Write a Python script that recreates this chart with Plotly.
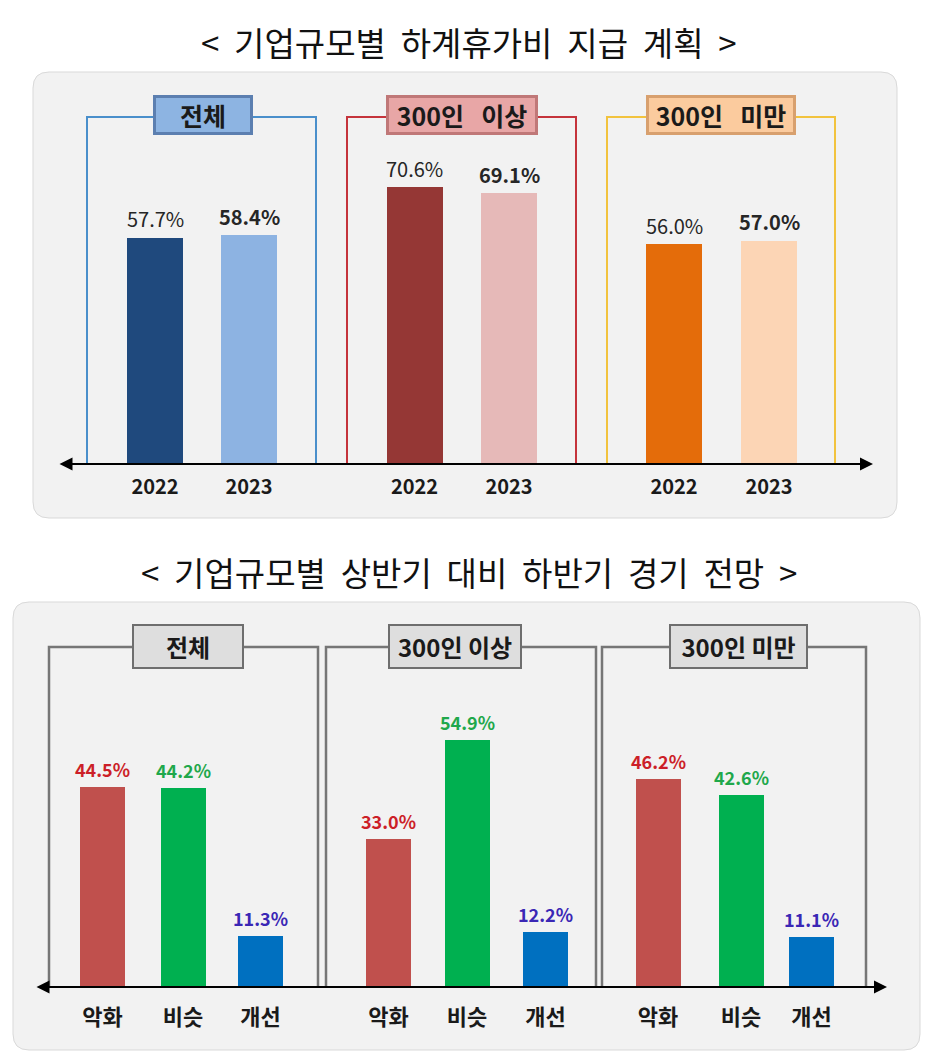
import plotly.graph_objects as go

# ---------------- data ----------------
top_title = "<  기업규모별  하계휴가비  지급  계획  >"
bottom_title = "<  기업규모별  상반기  대비  하반기  경기  전망  >"

top_groups = ["전체", "300인   이상", "300인   미만"]
top_years = ["2022", "2023"]
top_2022 = [57.7, 70.6, 56.0]
top_2023 = [58.4, 69.1, 57.0]

bottom_groups = ["전체", "300인 이상", "300인 미만"]
bottom_cats = ["악화", "비슷", "개선"]
bottom_worse = [44.5, 33.0, 46.2]
bottom_same = [44.2, 54.9, 42.6]
bottom_better = [11.3, 12.2, 11.1]

# ---------------- layout constants (pixels) ----------------
W, H = 938, 1060
FONT = "Noto Sans CJK KR"

TOP_BAR_X = [[155, 249], [414.5, 509], [674, 769]]
TOP_BAR_W = 56
TOP_BASE, TOP_TOP = 464, 72
TOP_SCALE = 3.92  # px per %
TOP_COLORS = [["#1F497D", "#8DB3E2"], ["#953735", "#E6B9B8"], ["#E46C0A", "#FCD5B5"]]
TOP_BRACKETS = [(87, 316, "#4A8FCB"), (347, 576, "#C5343C"), (607, 835, "#F2C33E")]
TOP_BRACKET_Y = 117
TOP_BOXES = [(153, 253, "#8DB4E2", "#5C7FB0"), (386, 538, "#E8A6A6", "#C07878"),
             (646, 796, "#FBCB9E", "#D8A06E")]
TOP_BOX_Y = (95, 135)

BOT_BAR_X = [[102.5, 183, 260.5], [388.5, 467, 545.5], [658, 741, 811.5]]
BOT_BAR_W = 45
BOT_BASE, BOT_TOP = 987, 602
BOT_SCALE = 4.5
BOT_COLORS = ["#C0504D", "#00B050", "#0070C0"]
BOT_TEXT_COLORS = ["#CC1F28", "#1FA84B", "#3A27B5"]
BOT_BRACKETS = [(49, 318), (326, 596), (602, 866)]
BOT_BRACKET_Y = 647
BOT_BOXES = [(132, 244), (388, 522), (669, 808)]
BOT_BOX_Y = (624, 669)


def px(x):
    return x / W


def py(y):
    return 1 - y / H


def rrect(x0, y0, x1, y1, r):
    X0, X1 = px(x0), px(x1)
    Y0, Y1 = py(y0), py(y1)
    rx, ry = r / W, r / H
    return (f"M {X0+rx},{Y0} L {X1-rx},{Y0} Q {X1},{Y0} {X1},{Y0-ry} "
            f"L {X1},{Y1+ry} Q {X1},{Y1} {X1-rx},{Y1} L {X0+rx},{Y1} "
            f"Q {X0},{Y1} {X0},{Y1+ry} L {X0},{Y0-ry} Q {X0},{Y0} {X0+rx},{Y0} Z")


def spaced(s):
    # widen word gaps: keep first space, turn the extra ones into no-break spaces
    out = []
    prev_space = False
    for ch in s:
        if ch == " ":
            out.append("\u00a0" if prev_space else " ")
            prev_space = True
        else:
            out.append(ch)
            prev_space = False
    return "".join(out)


fig = go.Figure()
annotations = []
shapes = []

# ---------------- top bars ----------------
tx, ty, tc = [], [], []
for g in range(len(top_groups)):
    for i, vals in enumerate([top_2022, top_2023]):
        v = vals[g]
        tx.append(TOP_BAR_X[g][i])
        ty.append(v)
        tc.append(TOP_COLORS[g][i])
        annotations.append(dict(
            x=TOP_BAR_X[g][i], y=v, xref="x", yref="y", showarrow=False,
            text=f"{v:.1f}%" if i == 0 else f"<b>{v:.1f}%</b>",
            font=dict(family=FONT, size=20, color="#262626"),
            yshift=19, yanchor="middle", xanchor="center"))
fig.add_trace(go.Bar(
    x=tx, y=ty, width=TOP_BAR_W, marker=dict(color=tc, line=dict(width=0)),
    xaxis="x", yaxis="y", showlegend=False, hoverinfo="skip"))

# ---------------- bottom bars ----------------
for c, vals in enumerate([bottom_worse, bottom_same, bottom_better]):
    xs = [BOT_BAR_X[g][c] for g in range(len(bottom_groups))]
    fig.add_trace(go.Bar(
        x=xs, y=vals, width=BOT_BAR_W,
        marker=dict(color=BOT_COLORS[c], line=dict(width=0)),
        xaxis="x2", yaxis="y2", showlegend=False, hoverinfo="skip"))
    for xv, v in zip(xs, vals):
        annotations.append(dict(
            x=xv, y=v, xref="x2", yref="y2", showarrow=False,
            text=f"<b>{v:.1f}%</b>",
            font=dict(family=FONT, size=18, color=BOT_TEXT_COLORS[c]),
            yshift=18, yanchor="middle", xanchor="center"))

# panels
shapes.append(dict(type="path", path=rrect(33, 72, 897, 518, 16), xref="paper", yref="paper",
                   fillcolor="#F2F2F2", line=dict(color="#D9D9D9", width=1), layer="below"))
shapes.append(dict(type="path", path=rrect(13, 602, 920, 1050, 16), xref="paper", yref="paper",
                   fillcolor="#F2F2F2", line=dict(color="#D9D9D9", width=1), layer="below"))

# top brackets
for (l, r, col) in TOP_BRACKETS:
    shapes.append(dict(type="path",
                       path=f"M {px(l)},{py(TOP_BASE)} L {px(l)},{py(TOP_BRACKET_Y)} "
                            f"L {px(r)},{py(TOP_BRACKET_Y)} L {px(r)},{py(TOP_BASE)}",
                       xref="paper", yref="paper", line=dict(color=col, width=2), layer="below"))
# bottom brackets
for (l, r) in BOT_BRACKETS:
    shapes.append(dict(type="path",
                       path=f"M {px(l)},{py(BOT_BASE)} L {px(l)},{py(BOT_BRACKET_Y)} "
                            f"L {px(r)},{py(BOT_BRACKET_Y)} L {px(r)},{py(BOT_BASE)}",
                       xref="paper", yref="paper", line=dict(color="#767676", width=2.5),
                       layer="below"))

# top label boxes
for g, (l, r, fill, border) in enumerate(TOP_BOXES):
    annotations.append(dict(
        x=px((l + r) / 2), y=py(sum(TOP_BOX_Y) / 2), xref="paper", yref="paper",
        text=f"<b>{spaced(top_groups[g])}</b>", showarrow=False,
        font=dict(family=FONT, size=25, color="#1A1A1A"),
        bgcolor=fill, bordercolor=border, borderwidth=3, borderpad=0,
        width=r - l - 6, height=TOP_BOX_Y[1] - TOP_BOX_Y[0] - 6,
        xanchor="center", yanchor="middle"))
# bottom label boxes
for g, (l, r) in enumerate(BOT_BOXES):
    annotations.append(dict(
        x=px((l + r) / 2), y=py(sum(BOT_BOX_Y) / 2), xref="paper", yref="paper",
        text=f"<b>{bottom_groups[g]}</b>", showarrow=False,
        font=dict(family=FONT, size=24, color="#1A1A1A"),
        bgcolor="#DEDEDE", bordercolor="#6E6E6E", borderwidth=2, borderpad=0,
        width=r - l - 4, height=BOT_BOX_Y[1] - BOT_BOX_Y[0] - 4,
        xanchor="center", yanchor="middle"))

# axis arrows
annotations.append(dict(x=873, y=0, ax=58, ay=0, xref="x", yref="y", axref="x", ayref="y",
                        text="", showarrow=True, arrowside="end+start", arrowhead=2,
                        startarrowhead=2, arrowsize=1.3, startarrowsize=1.3,
                        arrowwidth=2, arrowcolor="#000000"))
annotations.append(dict(x=887, y=0, ax=35, ay=0, xref="x2", yref="y2", axref="x2", ayref="y2",
                        text="", showarrow=True, arrowside="end+start", arrowhead=2,
                        startarrowhead=2, arrowsize=1.3, startarrowsize=1.3,
                        arrowwidth=2, arrowcolor="#000000"))

# titles
annotations.append(dict(x=0.5, y=py(42), xref="paper", yref="paper", text=spaced(top_title),
                        showarrow=False, font=dict(family=FONT, size=33, color="#111111"),
                        xanchor="center", yanchor="middle"))
annotations.append(dict(x=0.5, y=py(572), xref="paper", yref="paper", text=spaced(bottom_title),
                        showarrow=False, font=dict(family=FONT, size=33, color="#111111"),
                        xanchor="center", yanchor="middle"))

top_tickvals = [x for grp in TOP_BAR_X for x in grp]
top_ticktext = [f"<b>{y}</b>" for _ in top_groups for y in top_years]
bot_tickvals = [x for grp in BOT_BAR_X for x in grp]
bot_ticktext = [f"<b>{c}</b>" for _ in bottom_groups for c in bottom_cats]

fig.update_layout(
    width=W, height=H, margin=dict(l=0, r=0, t=0, b=0),
    paper_bgcolor="white", plot_bgcolor="rgba(0,0,0,0)",
    shapes=shapes, annotations=annotations, bargap=0,
    xaxis=dict(domain=[0, 1], range=[0, W], anchor="y", showgrid=False, zeroline=False,
               showline=False, tickmode="array", tickvals=top_tickvals, ticktext=top_ticktext,
               ticks="", tickfont=dict(family=FONT, size=20, color="#1A1A1A"),
               ticklabelstandoff=9, fixedrange=True),
    yaxis=dict(domain=[py(TOP_BASE), py(TOP_TOP)], range=[0, (TOP_BASE - TOP_TOP) / TOP_SCALE],
               visible=False, fixedrange=True),
    xaxis2=dict(domain=[0, 1], range=[0, W], anchor="y2", showgrid=False, zeroline=False,
                showline=False, tickmode="array", tickvals=bot_tickvals, ticktext=bot_ticktext,
                ticks="", tickfont=dict(family=FONT, size=22, color="#1A1A1A"),
                ticklabelstandoff=15, fixedrange=True),
    yaxis2=dict(domain=[py(BOT_BASE), py(BOT_TOP)], range=[0, (BOT_BASE - BOT_TOP) / BOT_SCALE],
                visible=False, fixedrange=True),
)

fig.write_html("out.html", post_script="document.body.style.margin='0';",
               config={"displayModeBar": False})
